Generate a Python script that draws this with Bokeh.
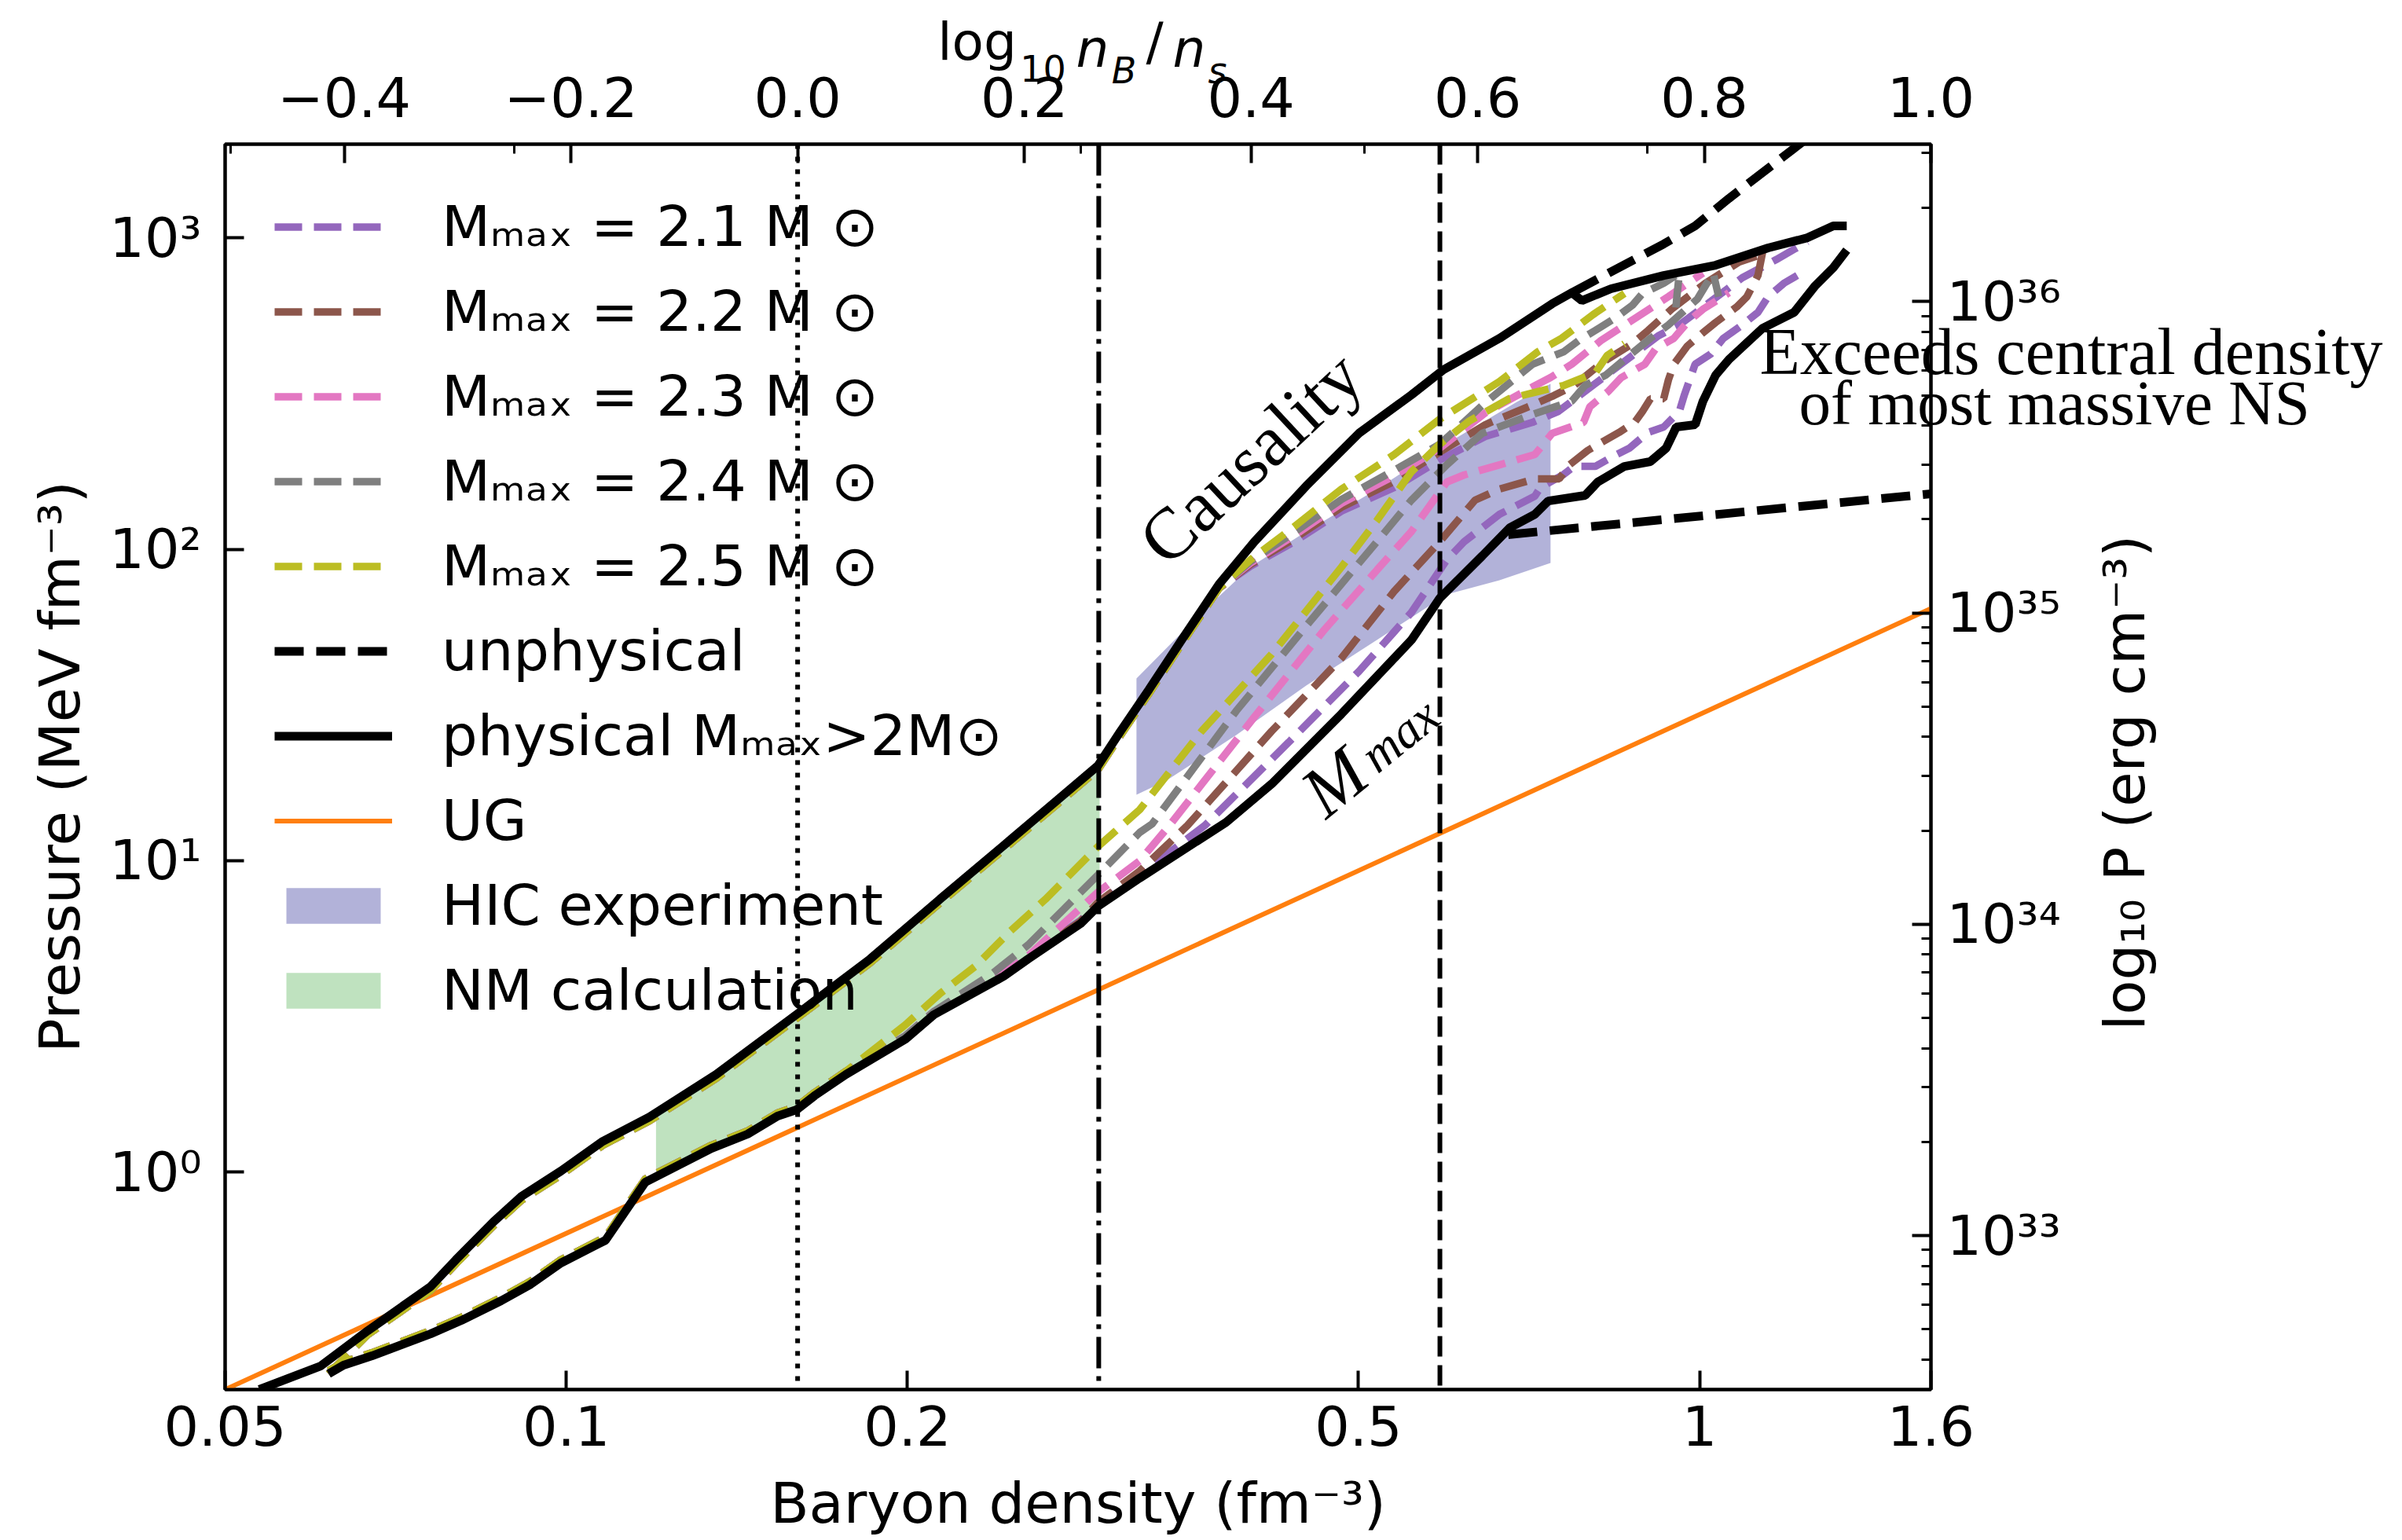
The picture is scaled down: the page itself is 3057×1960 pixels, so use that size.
import json
import numpy as np
from bokeh.plotting import figure
from bokeh.models import (Range1d, LinearAxis, LogAxis, FixedTicker, Label, Legend,
                          LegendItem, Span, LinearScale, LogScale, CustomJSTickFormatter)
from bokeh.embed import file_html
from bokeh.resources import INLINE

# ------------------------------------------------------------------ data
n_s = 0.16                               # saturation density (fm^-3)
MEV_FM3_TO_ERG_CM3 = 1.602e33
x_lim = [0.05, 1.6]
y_lim = [0.2, 2000.0]
density_lines = [0.16, 0.295, 0.59]      # dotted, dash-dot, dashed vertical markers

bottom_ticks = [0.05, 0.1, 0.2, 0.5, 1.0, 1.6]
left_ticks = [1.0, 10.0, 100.0, 1000.0]
right_ticks = [1e33, 1e34, 1e35, 1e36]
top_ticks = [-0.4, -0.2, 0.0, 0.2, 0.4, 0.6, 0.8, 1.0]
top_minor = [-0.5, -0.25, 0.0, 0.25, 0.5, 0.75, 1.0]

# causality (upper) envelope
nb_caus = [0.0536, 0.0607, 0.0668, 0.0759, 0.0799, 0.0862, 0.0913, 0.0989, 0.1077, 0.1184,
           0.1356, 0.1609, 0.1854, 0.2136, 0.2467, 0.2945, 0.3084, 0.3267, 0.3506, 0.3767,
           0.4047, 0.4497, 0.5004, 0.5568, 0.5944, 0.6660, 0.7412, 0.7712, 0.7873, 0.8353,
           0.9296, 1.033, 1.1494, 1.245, 1.3122, 1.3484]
p_caus = [0.2, 0.238, 0.309, 0.428, 0.522, 0.690, 0.835, 1.006, 1.254, 1.502,
          2.056, 3.272, 4.830, 7.51, 11.68, 20.17, 26.05, 35.44, 52.3, 77.2,
          105.7, 159.7, 235.6, 313.2, 377.4, 476.0, 614.6, 666.8, 629.0, 686.5,
          757.6, 817.0, 928.7, 1001.0, 1093.0, 1093.0]

# M_max (lower) envelope
nb_mmax = [0.0617, 0.0636, 0.0674, 0.0759, 0.0808, 0.0876, 0.0928, 0.0989, 0.1083, 0.1174,
           0.1343, 0.1445, 0.1536, 0.1596, 0.1656, 0.1765, 0.1992, 0.2110, 0.2432, 0.2556,
           0.2843, 0.2945, 0.3206, 0.3821, 0.4193, 0.4831, 0.5568, 0.5898, 0.6430, 0.6801,
           0.7155, 0.7352, 0.7925, 0.8130, 0.8584, 0.9047, 0.9341, 0.9537, 0.9911, 1.0069,
           1.033, 1.0614, 1.137, 1.2117, 1.265, 1.3122, 1.3484]
p_mmax = [0.2245, 0.2394, 0.2567, 0.302, 0.3334, 0.3857, 0.4331, 0.5097, 0.6033, 0.927,
          1.19, 1.322, 1.511, 1.582, 1.757, 2.056, 2.670, 3.197, 4.250, 4.830,
          6.273, 7.129, 8.786, 13.27, 17.65, 29.6, 51.1, 69.6, 95.2, 117.3,
          129.5, 142.9, 148.9, 164.4, 184.6, 191.2, 211.0, 246.9, 251.2, 299.0,
          362.2, 406.9, 513.3, 576.7, 702.6, 803.1, 912.8]

# unphysical continuations
nb_unph_up = [0.7712, 0.9296, 0.991, 1.0614, 1.2253, 1.306]
p_unph_up = [666.8, 955.9, 1093.0, 1339.0, 2000.0, 2422.0]
nb_unph_lo = [0.6779, 1.6]
p_unph_lo = [111.4, 150.7]

# unitary gas
nb_ug = [0.05, 1.6]
p_ug = [0.2, 64.5]

# HIC experiment band
nb_hic_top = [0.3185, 0.3636, 0.4015, 0.4497, 0.5191, 0.5984, 0.6899, 0.7387]
p_hic_top = [38.45, 62.6, 87.7, 114.0, 156.0, 218.5, 297.3, 339.8]
nb_hic_bot = [0.3185, 0.3384, 0.3901, 0.4497, 0.5191, 0.5984, 0.6660, 0.7387]
p_hic_bot = [16.27, 18.06, 25.3, 36.5, 51.1, 71.6, 79.5, 90.3]

# neutron matter calculation band
nb_nm_top = [0.12, 0.1356, 0.1609, 0.1854, 0.2136, 0.2467, 0.2955]
p_nm_top = [1.53, 2.05, 3.25, 4.80, 7.45, 11.6, 20.2]
nb_nm_bot = [0.12, 0.1343, 0.1445, 0.1536, 0.1596, 0.1656, 0.1765, 0.1992, 0.2110, 0.2432,
             0.2556, 0.2843, 0.2955]
p_nm_bot = [0.97, 1.19, 1.322, 1.511, 1.582, 1.757, 2.056, 2.670, 3.197, 4.250,
            4.830, 6.273, 7.15]

# M_max bands: shared low-density parts
nb_up_shared = [0.0617, 0.0668, 0.0759, 0.0799, 0.0862, 0.0913, 0.0989, 0.1077, 0.1184, 0.1356,
                0.1609, 0.1854, 0.2136, 0.2467, 0.2945, 0.3084, 0.3267, 0.3506, 0.3767]
p_up_shared = [0.2245, 0.300, 0.416, 0.507, 0.670, 0.811, 0.977, 1.218, 1.459, 1.997,
               3.178, 4.692, 7.30, 11.35, 19.59, 25.30, 34.43, 50.8, 75.0]
nb_lo_shared = [0.0617, 0.0636, 0.0674, 0.0759, 0.0808, 0.0876, 0.0928, 0.0989, 0.1083, 0.1174,
                0.1343, 0.1445, 0.1536, 0.1596, 0.1656, 0.1765]
p_lo_shared = [0.2298, 0.2450, 0.2627, 0.3091, 0.3412, 0.3948, 0.4433, 0.5217, 0.6175, 0.9488,
               1.218, 1.353, 1.547, 1.619, 1.798, 2.104]

mmax_values = [2.1, 2.2, 2.3, 2.4, 2.5]

# upper bounds (high-density tails)
nb_up_21 = [0.4015, 0.4377, 0.4831, 0.5377, 0.5897, 0.6470, 0.7121, 0.7506, 0.8221, 0.9193,
            0.9597, 1.0230, 1.0905, 1.1679, 1.2449]
p_up_21 = [88.25, 105.1, 132.6, 157.8, 193.4, 230.3, 255.6, 277.3, 355.9, 484.4,
           525.4, 625.4, 744.8, 851.1, 972.8]
nb_up_22 = [0.4015, 0.4377, 0.4831, 0.5377, 0.5897, 0.6470, 0.7121, 0.7434, 0.7750, 0.8221,
            0.8723, 0.9006, 0.9446, 1.0117, 1.0835, 1.1259]
p_up_22 = [89.3, 107.5, 136.5, 165.3, 205.0, 251.2, 290.5, 311.4, 335.9, 399.8,
           457.0, 504.5, 590.2, 715.0, 836.4, 876.2]
nb_up_23 = [0.4015, 0.4377, 0.4831, 0.5377, 0.5897, 0.6470, 0.7121, 0.7387, 0.7713, 0.8182,
            0.8807, 0.9386, 1.0068]
p_up_23 = [90.3, 110.0, 140.5, 172.2, 211.0, 274.1, 331.9, 355.9, 392.9, 467.8,
           556.9, 647.7, 771.3]
nb_up_24 = [0.4015, 0.4377, 0.4831, 0.5377, 0.5897, 0.6470, 0.7121, 0.7591, 0.7837, 0.8091,
            0.8448, 0.8723, 0.8906, 0.9296, 0.9597, 0.9552, 0.9521]
p_up_24 = [91.4, 112.6, 144.6, 179.3, 217.3, 295.6, 392.9, 431.2, 470.6, 504.5,
           556.9, 607.6, 663.0, 715.0, 771.3, 655.3, 576.7]
nb_up_25 = [0.4015, 0.4377, 0.4831, 0.5377, 0.5897, 0.6660, 0.7201, 0.7554, 0.8052, 0.8584]
p_up_25 = [92.5, 117.3, 156.0, 201.4, 261.6, 345.8, 431.2, 476.0, 566.8, 663.0]

# lower bounds (high-density tails)
nb_lo_21 = [0.1991, 0.2110, 0.2432, 0.2556, 0.2843, 0.2945, 0.3206, 0.3660, 0.4341, 0.5004,
            0.5568, 0.5983, 0.6197, 0.6660, 0.7155, 0.7235, 0.7591, 0.7750, 0.8091, 0.8394,
            0.8667, 0.9006, 0.9296, 0.9597, 0.9690, 0.9799, 0.9909, 1.0230, 1.0495, 1.0905,
            1.1259, 1.1494, 1.1867, 1.2193]
p_lo_21 = [2.733, 3.272, 4.349, 4.943, 6.420, 7.295, 8.994, 12.97, 24.02, 40.51,
           62.65, 92.5, 105.7, 129.5, 148.0, 157.8, 174.2, 184.6, 184.6, 199.1,
           211.0, 237.1, 246.9, 277.3, 311.4, 349.9, 392.9, 423.7, 476.0, 525.4,
           576.7, 647.7, 715.0, 757.6]
nb_lo_22 = [0.1991, 0.2110, 0.2432, 0.2556, 0.2843, 0.2945, 0.3206, 0.3533, 0.4192, 0.4831,
            0.5377, 0.5897, 0.6337, 0.6660, 0.7155, 0.7518, 0.7677, 0.7963, 0.8182, 0.8489,
            0.8764, 0.8906, 0.9049, 0.9296, 0.9386, 0.9491, 0.9752, 1.0068, 1.0329, 1.0784,
            1.1010, 1.1259, 1.1367]
p_lo_22 = [2.702, 3.234, 4.299, 4.887, 6.383, 7.337, 9.261, 12.97, 26.05, 44.72,
           73.28, 105.7, 143.8, 156.0, 168.2, 168.2, 186.7, 207.4, 219.8, 237.1,
           255.6, 277.3, 304.2, 304.2, 349.9, 392.9, 449.2, 495.8, 534.6, 600.6,
           647.7, 757.6, 902.1]
nb_lo_23 = [0.1991, 0.2110, 0.2432, 0.2556, 0.2746, 0.2945, 0.3206, 0.3406, 0.4047, 0.4665,
            0.5191, 0.5568, 0.5983, 0.6197, 0.6660, 0.7155, 0.7411, 0.7900, 0.8002, 0.8314,
            0.8529, 0.8948, 0.9149, 0.9491, 0.9752, 1.0068, 1.0329, 1.0613]
p_lo_23 = [2.733, 3.272, 4.349, 4.943, 6.273, 7.913, 9.986, 12.97, 28.92, 55.12,
           85.73, 114.0, 164.4, 173.2, 186.7, 201.4, 235.6, 255.6, 287.1, 322.4,
           355.9, 392.9, 441.2, 476.0, 534.6, 590.2, 625.4, 666.8]
nb_lo_24 = [0.1991, 0.2110, 0.2379, 0.2556, 0.2746, 0.2945, 0.3206, 0.3288, 0.3902, 0.4497,
            0.5191, 0.5568, 0.5983, 0.6429, 0.7121, 0.7713, 0.7925, 0.8261, 0.8584, 0.9049,
            0.9386, 0.9956, 1.0280, 1.0395]
p_lo_24 = [2.733, 3.272, 4.349, 5.362, 6.965, 8.994, 12.31, 13.12, 30.29, 56.75,
           105.7, 143.8, 186.7, 235.6, 270.9, 299.0, 335.9, 362.2, 406.9, 476.0,
           525.4, 636.6, 771.3, 647.7]
nb_lo_25 = [0.1991, 0.2137, 0.2297, 0.2467, 0.2647, 0.2945, 0.3206, 0.3636, 0.4192, 0.4831,
            0.5191, 0.5568, 0.5897, 0.6267, 0.6788, 0.7235, 0.7591, 0.8091, 0.8288, 0.8584]
p_lo_25 = [2.965, 3.740, 4.584, 5.953, 7.510, 11.09, 14.57, 26.05, 46.04, 87.7,
           123.6, 177.3, 217.3, 258.6, 304.2, 322.4, 335.9, 368.6, 418.9, 457.0]

# ------------------------------------------------------------------ styling / layout
C_PURPLE, C_BROWN, C_PINK, C_GRAY, C_OLIVE = "#9467bd", "#8c564b", "#e377c2", "#7f7f7f", "#bcbd22"
C_ORANGE = "#ff7f0e"
SANS = "DejaVu Sans"
SERIF = "Liberation Serif"
FRAME_L, FRAME_R, FRAME_T, FRAME_B = 286, 2457, 183, 1768
W, H = 3057, 1960
LINE_H = 1.078          # text box height / font size used by the layout of text axes

p = figure(width=W, height=H, x_axis_type="log", y_axis_type="log",
           x_range=Range1d(x_lim[0], x_lim[1]), y_range=Range1d(y_lim[0], y_lim[1]),
           output_backend="svg", toolbar_location=None,
           min_border_left=FRAME_L, min_border_right=W - FRAME_R,
           min_border_top=FRAME_T, min_border_bottom=H - FRAME_B,
           background_fill_color="white", border_fill_color="white")
p.xgrid.visible = False
p.ygrid.visible = False
p.outline_line_color = "black"
p.outline_line_width = 4

t_lo, t_hi = float(np.log10(x_lim[0] / n_s)), float(np.log10(x_lim[1] / n_s))
p.extra_x_ranges = {"t": Range1d(t_lo, t_hi)}
p.extra_x_scales = {"t": LinearScale()}
p.extra_y_ranges = {"erg": Range1d(y_lim[0] * MEV_FM3_TO_ERG_CM3, y_lim[1] * MEV_FM3_TO_ERG_CM3)}
p.extra_y_scales = {"erg": LogScale()}


def t_at(X):
    """top-axis coordinate of canvas column X (for placing text)"""
    return t_lo + (X - FRAME_L) / (FRAME_R - FRAME_L) * (t_hi - t_lo)


def p_at(Y):
    """pressure coordinate of canvas row Y (for placing text)"""
    a, b = np.log10(y_lim[0]), np.log10(y_lim[1])
    return float(10 ** (a + (FRAME_B - Y) / (FRAME_B - FRAME_T) * (b - a)))


SUP_JS = """
const s = {"-":"\u207b","0":"\u2070","1":"\u00b9","2":"\u00b2","3":"\u00b3","4":"\u2074",
           "5":"\u2075","6":"\u2076","7":"\u2077","8":"\u2078","9":"\u2079"};
const e = Math.round(Math.log10(tick));
return "10" + String(e).split("").map(c => s[c]).join("");
"""


def style_axis(ax, minor=False):
    ax.axis_line_width = 4
    ax.axis_line_color = "black"
    ax.major_tick_line_width = 4
    ax.minor_tick_line_width = 3
    ax.major_tick_in = 24
    ax.major_tick_out = 0
    ax.minor_tick_in = 12 if minor else 0
    ax.minor_tick_out = 0
    ax.major_label_text_font = SANS
    ax.major_label_text_font_size = "70px"
    ax.major_label_text_color = "black"
    ax.axis_label_text_font = SANS
    ax.axis_label_text_font_size = "72px"
    ax.axis_label_text_font_style = "normal"
    ax.axis_label_text_color = "black"


xb = p.below[0]
xb.ticker = FixedTicker(ticks=bottom_ticks, minor_ticks=[])
xb.formatter = CustomJSTickFormatter(code="return String(Math.round(tick*100)/100);")
xb.axis_label = "Baryon density (fm\u207b\u00b3)"
style_axis(xb)
xb.major_label_standoff = 20
xb.axis_label_standoff = 28

yl = p.left[0]
yl.ticker = FixedTicker(ticks=left_ticks, minor_ticks=[])
yl.formatter = CustomJSTickFormatter(code=SUP_JS)
yl.axis_label = "Pressure (MeV fm\u207b\u00b3)"
style_axis(yl)
yl.major_label_standoff = 30
yl.axis_label_standoff = 18

TOP_STANDOFF, TOP_FS = 35, 70
top_axis = LinearAxis(x_range_name="t",
                      ticker=FixedTicker(ticks=top_ticks, minor_ticks=top_minor),
                      formatter=CustomJSTickFormatter(
                          code="return (tick < -1e-9 ? '\u2212' : '') + Math.abs(tick).toFixed(1);"))
style_axis(top_axis, minor=True)
top_axis.major_label_standoff = TOP_STANDOFF
p.add_layout(top_axis, "above")

minor_r = [k * 10.0 ** e for e in range(32, 37) for k in range(2, 10)]
right_axis = LogAxis(y_range_name="erg",
                     ticker=FixedTicker(ticks=right_ticks, minor_ticks=minor_r),
                     formatter=CustomJSTickFormatter(code=SUP_JS))
style_axis(right_axis, minor=True)
right_axis.major_label_standoff = 20
p.add_layout(right_axis, "right")


def text_axis(side, positions, texts, standoff, font, size, style="normal",
              orientation=None, range_name=None):
    """an axis without line/ticks used only to write text outside the frame"""
    kw = {}
    if range_name is not None:
        kw["x_range_name" if side in ("above", "below") else "y_range_name"] = range_name
    cls = LogAxis if side in ("left", "right") else LinearAxis
    ax = cls(ticker=FixedTicker(ticks=positions, minor_ticks=[]),
             formatter=CustomJSTickFormatter(code="const L = %s; return L[index];" % json.dumps(texts)),
             **kw)
    ax.axis_line_color = None
    ax.major_tick_line_color = None
    ax.minor_tick_line_color = None
    ax.major_tick_in = 0
    ax.major_tick_out = 0
    ax.minor_tick_in = 0
    ax.minor_tick_out = 0
    ax.major_label_standoff = int(round(standoff))
    ax.major_label_text_font = font
    ax.major_label_text_font_size = "%dpx" % size
    ax.major_label_text_font_style = style
    ax.major_label_text_color = "black"
    if orientation is not None:
        ax.major_label_orientation = orientation
    p.add_layout(ax, side)
    return ax


# top label  log10 nB/ns : pieces on stacked text axes (baselines at canvas rows)
MAIN_FS, SUB_FS, MAIN_BASE, SUB_BASE = 66, 46, 73, 82
edge = FRAME_T - TOP_STANDOFF - LINE_H * TOP_FS
pieces = [([1327], ["10"], SUB_FS, SUB_BASE, "normal"),
          ([1430, 1549], ["B", "s"], SUB_FS, SUB_BASE, "italic"),
          ([1390, 1513], ["n", "n"], MAIN_FS, MAIN_BASE, "italic"),
          ([1243, 1469], ["log", "/"], MAIN_FS, MAIN_BASE, "normal")]
for xs, txts, fs, base, st in pieces:
    so = round(edge - base)
    text_axis("above", [t_at(x) for x in xs], txts, so, SANS, fs, style=st, range_name="t")
    edge = edge - so - LINE_H * fs

# right label (reads bottom-to-top) and the "Exceeds ..." note
text_axis("right", [p_at(1311)], ["log\u2081\u2080 P (erg cm\u207b\u00b3)"], 78, SANS, 72,
          orientation=np.pi / 2)
text_axis("right", [p_at(512)], ["of most massive NS"], -501, SERIF, 81)
text_axis("right", [p_at(447)], ["Exceeds central density"], -703, SERIF, 84)

# ------------------------------------------------------------------ glyphs
r_hic = p.patch(nb_hic_top + nb_hic_bot[::-1], p_hic_top + p_hic_bot[::-1],
                fill_color="navy", fill_alpha=0.3, line_alpha=0)
r_nm = p.patch(nb_nm_top + nb_nm_bot[::-1], p_nm_top + p_nm_bot[::-1],
               fill_color="#2ca02c", fill_alpha=0.3, line_alpha=0)

r_ug = p.line(nb_ug, p_ug, line_color=C_ORANGE, line_width=6)

bands = [
    (C_PURPLE, nb_up_21, p_up_21, nb_lo_21, p_lo_21),
    (C_BROWN, nb_up_22, p_up_22, nb_lo_22, p_lo_22),
    (C_PINK, nb_up_23, p_up_23, nb_lo_23, p_lo_23),
    (C_GRAY, nb_up_24, p_up_24, nb_lo_24, p_lo_24),
    (C_OLIVE, nb_up_25, p_up_25, nb_lo_25, p_lo_25),
]
band_renderers = []
for col, nbu, pu, nbl, pl in bands:
    ru = p.line(nb_up_shared + nbu, p_up_shared + pu, line_color=col, line_width=9.5,
                line_dash="35 15")
    p.line(nb_lo_shared + nbl, p_lo_shared + pl, line_color=col, line_width=9.5,
           line_dash="35 15")
    band_renderers.append(ru)

r_unph = p.line(nb_unph_up, p_unph_up, line_color="black", line_width=11, line_dash="37 16")
p.line(nb_unph_lo, p_unph_lo, line_color="black", line_width=11, line_dash="37 16")
r_phys = p.line(nb_caus, p_caus, line_color="black", line_width=11)
p.line(nb_mmax, p_mmax, line_color="black", line_width=11)

for loc, dash in zip(density_lines, ["6 10", "40 10 6 10", "26 11"]):
    p.add_layout(Span(location=loc, dimension="height", line_color="black",
                      line_width=6, line_dash=dash))

# ------------------------------------------------------------------ legend
labels = ["M\u2098\u2090\u2093 = %.1f M \u2299" % m for m in mmax_values]
items = [LegendItem(label=lab, renderers=[r]) for lab, r in zip(labels, band_renderers)]
items += [LegendItem(label="unphysical", renderers=[r_unph]),
          LegendItem(label="physical M\u2098\u2090\u2093>2M\u2299", renderers=[r_phys]),
          LegendItem(label="UG", renderers=[r_ug]),
          LegendItem(label="HIC experiment", renderers=[r_hic]),
          LegendItem(label="NM calculation", renderers=[r_nm])]
legend = Legend(items=items, location="top_left", margin=0, padding=63, spacing=24,
                label_text_font=SANS, label_text_font_size="72px", label_text_color="black",
                glyph_width=150, glyph_height=57, label_standoff=63, label_height=70,
                background_fill_alpha=0, border_line_alpha=0)
p.add_layout(legend)

# ------------------------------------------------------------------ in-frame annotations
p.add_layout(Label(x=0.4015, y=196.8, text="Causality", angle=np.deg2rad(43),
                   text_font=SERIF, text_font_size="92px", text_align="center",
                   text_baseline="middle", text_color="black"))
p.add_layout(Label(x=0.476, y=17.85, text="M", angle=np.deg2rad(39), text_font=SERIF,
                   text_font_style="italic", text_font_size="92px", text_align="center",
                   text_baseline="middle", text_color="black"))
p.add_layout(Label(x=0.5436, y=25.3, text="max", angle=np.deg2rad(39), text_font=SERIF,
                   text_font_style="italic", text_font_size="64px", text_align="center",
                   text_baseline="middle", text_color="black"))

open("out.html", "w", encoding="utf-8").write(file_html(p, INLINE))
